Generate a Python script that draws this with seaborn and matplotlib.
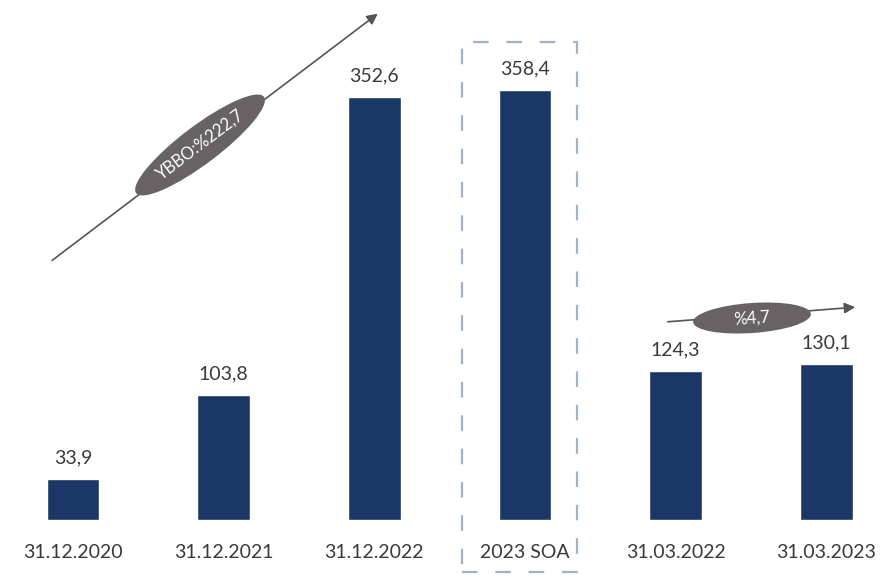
import matplotlib
matplotlib.use("Agg")
import matplotlib.pyplot as plt
import matplotlib.patches as mpatches
from matplotlib.transforms import IdentityTransform
import seaborn as sns
import pandas as pd

# Data
categories = ["31.12.2020", "31.12.2021", "31.12.2022", "2023 SOA", "31.03.2022", "31.03.2023"]
values = [33.9, 103.8, 352.6, 358.4, 124.3, 130.1]
growth_long = "YBBO:%222,7"
growth_short = "%4,7"

bar_color = "#1b3766"
text_color = "#3a3a3a"
badge_color = "#686264"

sns.set_theme(style="white")
plt.rcParams["font.family"] = ["Lato", "DejaVu Sans"]

df = pd.DataFrame({"period": categories, "value": values})

fig = plt.figure(figsize=(8.82, 5.81), dpi=100)
ax = fig.add_axes([0, 61 / 581, 1, 1 - 61 / 581])

sns.barplot(data=df, x="period", y="value", color=bar_color, width=0.35,
            saturation=1, ax=ax)

ax.set_xlim(-0.485, 5.37)
ax.set_ylim(0, 433)
for s in ax.spines.values():
    s.set_visible(False)
ax.set_xlabel("")
ax.set_ylabel("")
ax.set_yticks([])
ax.tick_params(axis="x", length=0, pad=17, labelsize=14, labelcolor=text_color)

# value labels
for i, v in enumerate(values):
    ax.annotate(f"{v:.1f}".replace(".", ","), xy=(i, v), xytext=(0, 9),
                textcoords="offset points", ha="center", va="bottom",
                fontsize=14, color=text_color)

# growth arrows
arrow_style = dict(arrowstyle="-|>", color="#555555", lw=1.2, mutation_scale=16)
ax.annotate("", xy=(380, 569), xytext=(50, 319), xycoords="figure pixels",
            textcoords="figure pixels", arrowprops=arrow_style)
ax.annotate("", xy=(858, 274), xytext=(665, 259), xycoords="figure pixels",
            textcoords="figure pixels", arrowprops=arrow_style)

# elliptical badges on the arrows (pixel space)
px = IdentityTransform()
fig.patches.append(mpatches.Ellipse((200, 436), 160, 38, angle=37,
                                    transform=px, fc=badge_color, ec="none"))
fig.patches.append(mpatches.Ellipse((752, 263), 118, 30, angle=4,
                                    transform=px, fc=badge_color, ec="none"))
fig.text(200 / 882, 436 / 581, growth_long, rotation=37, ha="center", va="center",
         fontsize=12, color="white", rotation_mode="anchor")
fig.text(752 / 882, 263 / 581, growth_short, rotation=4, ha="center", va="center",
         fontsize=12, color="white", rotation_mode="anchor")

# dashed frame around the plan column
frame = mpatches.Rectangle((462 / 882, 9 / 581), 115 / 882, 530 / 581,
                           transform=fig.transFigure, fill=False,
                           ec="#a4b0c6", lw=1.6, ls=(0, (7, 8)))
fig.patches.append(frame)

fig.savefig("out.png", dpi=100)
